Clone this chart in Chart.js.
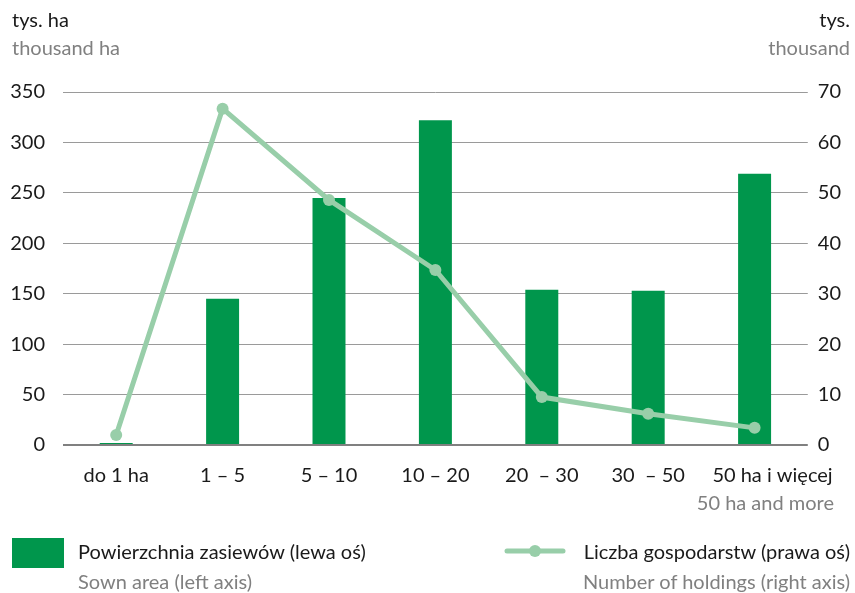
<!DOCTYPE html>
<html lang="pl">
<head>
    <meta charset="UTF-8">
    <title>Powierzchnia zasiewów i liczba gospodarstw</title>
    <script src="https://cdn.jsdelivr.net/npm/chart.js"></script>
    <style>
html, body {
    margin: 0;
    padding: 0;
    background: #fff;
}
#wrap {
    position: relative;
    width: 855px;
    height: 593px;
    font-family: Lato, sans-serif;
    font-size: 20px;
}
#wrap canvas {
    position: absolute;
    left: 0;
    top: 0;
}
.txt {
    position: absolute;
    white-space: nowrap;
    line-height: 1;
}
.dark { color: #1a1a1a; }
.grey { color: #808080; }
.right { text-align: right; }
#boxArea {
    position: absolute;
    left: 12px;
    top: 538px;
    width: 52px;
    height: 30px;
    background: #00964c;
}
    </style>
</head>
<body>
    <div id="wrap">
        <canvas id="chart" width="855" height="593"></canvas>
        <div class="txt dark" style="left:12px; top:9px;">tys. ha</div>
        <div class="txt grey" style="left:12px; top:37px;">thousand ha</div>
        <div class="txt dark right" style="right:5px; top:9px;">tys.</div>
        <div class="txt grey right" style="right:5px; top:37px;">thousand</div>
        <div class="txt grey right" style="right:21px; top:492px;">50 ha and more</div>

        <div id="boxArea"></div>
        <div class="txt dark" style="left:78px; top:541px;">Powierzchnia zasiewów (lewa oś)</div>
        <div class="txt grey" style="left:78px; top:571px;">Sown area (left axis)</div>

        <canvas id="legendLine" width="62" height="16" style="left:504px; top:543px;"></canvas>
        <div class="txt dark right" style="right:5px; top:541px;">Liczba gospodarstw (prawa oś)</div>
        <div class="txt grey right" style="right:5px; top:571px;">Number of holdings (right axis)</div>
    </div>
    <script>
// leading spaces on the last label push it right, like in the source graphic
const categories = ['do 1 ha', '1 – 5', '5 – 10', '10 – 20', '20  – 30', '30  – 50', '       50 ha i więcej'];
const sownArea = [2, 145, 245, 322, 154, 153, 269];      // tys. ha, left axis
const holdings = [2.0, 66.7, 48.6, 34.7, 9.5, 6.2, 3.4];  // tys., right axis
const leftTicks = [0, 50, 100, 150, 200, 250, 300, 350];
const rightTicks = [0, 10, 20, 30, 40, 50, 60, 70];

const barColor = '#00964c';
const lineColor = '#98cea9';
const gridColor = '#9a9a9a';
const tickFont = { family: 'Lato, sans-serif', size: 20 };

// small line + dot sample for the legend
const lg = document.getElementById('legendLine').getContext('2d');
lg.strokeStyle = lineColor;
lg.lineWidth = 5;
lg.lineCap = 'round';
lg.beginPath();
lg.moveTo(3, 8);
lg.lineTo(59, 8);
lg.stroke();
lg.fillStyle = lineColor;
lg.beginPath();
lg.arc(31, 8, 6, 0, Math.PI * 2);
lg.fill();

new Chart(document.getElementById('chart'), {
    data: {
        labels: categories,
        datasets: [
            {
                type: 'line',
                label: 'Liczba gospodarstw (prawa oś)',
                data: holdings,
                yAxisID: 'yRight',
                borderColor: lineColor,
                backgroundColor: lineColor,
                borderWidth: 5,
                pointRadius: 6,
                pointHoverRadius: 6,
                pointBorderWidth: 0,
                tension: 0,
                order: 0
            },
            {
                type: 'bar',
                label: 'Powierzchnia zasiewów (lewa oś)',
                data: sownArea,
                yAxisID: 'yLeft',
                backgroundColor: barColor,
                categoryPercentage: 1,
                barPercentage: 0.31,
                order: 1
            }
        ]
    },
    options: {
        responsive: false,
        animation: false,
        layout: { padding: { top: 92, left: 0, right: 0, bottom: 0 } },
        plugins: {
            legend: { display: false },
            tooltip: { enabled: false }
        },
        scales: {
            x: {
                grid: { display: false, drawTicks: false },
                border: { display: false },
                ticks: { color: '#1a1a1a', font: tickFont, padding: 19, maxRotation: 0, autoSkip: false },
                afterFit: (s) => { s.height = 148; }
            },
            yLeft: {
                position: 'left',
                min: 0,
                max: 350,
                afterBuildTicks: (s) => { s.ticks = leftTicks.map(v => ({ value: v })); },
                grid: {
                    color: (c) => c.tick && c.tick.value === 0 ? '#808080' : gridColor,
                    lineWidth: (c) => c.tick && c.tick.value === 0 ? 2 : 1,
                    drawTicks: false
                },
                border: { display: false },
                ticks: { color: '#1a1a1a', font: tickFont, padding: 18 },
                afterFit: (s) => { s.width = 63; }
            },
            yRight: {
                position: 'right',
                min: 0,
                max: 70,
                afterBuildTicks: (s) => { s.ticks = rightTicks.map(v => ({ value: v })); },
                grid: { display: false, drawTicks: false },
                border: { display: false },
                ticks: { color: '#1a1a1a', font: tickFont, padding: 10 },
                afterFit: (s) => { s.width = 47; }
            }
        }
    }
});
    </script>
</body>
</html>
